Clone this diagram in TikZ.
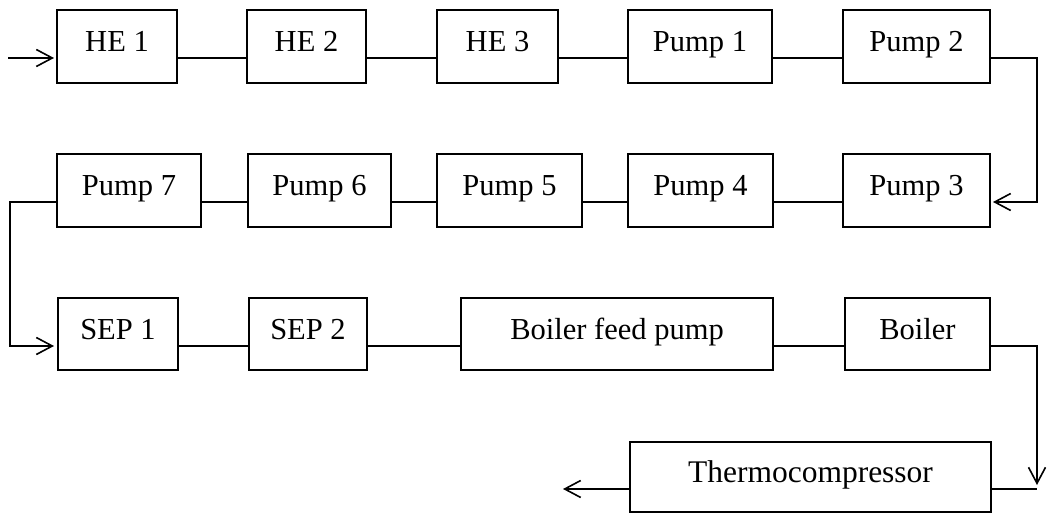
\documentclass[tikz,border=0pt]{standalone}
\usepackage{fontspec}
\setmainfont{Liberation Serif}
\usetikzlibrary{arrows.meta}
\begin{document}
\begin{tikzpicture}[x=1pt,y=-1pt,
  blk/.style={draw,line width=1.6pt,rectangle,inner sep=0pt,outer sep=0pt,
    text height=42pt,text depth=31pt,align=center,
    font=\fontsize{30.5}{33}\selectfont},
  conn/.style={line width=1.6pt},
  arr/.style={line width=1.6pt,-{Straight Barb[length=16pt,width=17pt,line width=1.6pt]}}]
\useasboundingbox (0,0) rectangle (1050,513);
% row 1
\node[blk,minimum width=120pt] (he1) at (117,46.5) {HE 1};
\node[blk,minimum width=119pt] (he2) at (306.5,46.5) {HE 2};
\node[blk,minimum width=121pt] (he3) at (497.5,46.5) {HE 3};
\node[blk,minimum width=144pt] (p1) at (700,46.5) {Pump 1};
\node[blk,minimum width=147pt] (p2) at (916.5,46.5) {Pump 2};
% row 2
\node[blk,minimum width=144pt] (p7) at (129,190.5) {Pump 7};
\node[blk,minimum width=143pt] (p6) at (319.5,190.5) {Pump 6};
\node[blk,minimum width=145pt] (p5) at (509.5,190.5) {Pump 5};
\node[blk,minimum width=145pt] (p4) at (700.5,190.5) {Pump 4};
\node[blk,minimum width=147pt] (p3) at (916.5,190.5) {Pump 3};
% row 3
\node[blk,minimum width=120pt,text height=41pt] (s1) at (118,334) {SEP 1};
\node[blk,minimum width=118pt,text height=41pt] (s2) at (308,334) {SEP 2};
\node[blk,minimum width=312pt,text height=41pt] (bfp) at (617,334) {Boiler feed pump};
\node[blk,minimum width=145pt,text height=41pt] (boil) at (917.5,334) {Boiler};
% row 4
\node[blk,minimum width=361pt,text height=40pt,text depth=30pt,font=\fontsize{31.5}{34}\selectfont] (tc) at (810.5,477) {Thermocompressor};
% coordinates
\coordinate (in) at (8,58);
\coordinate (c1) at (1037,58);
\coordinate (c2) at (10,202);
\coordinate (c4) at (1037,489);
\coordinate (out) at (563,489);
% connectors
\draw[arr,shorten >=3pt] (in) -- ([yshift=25pt]he1.south west);
\draw[conn] ([yshift=25pt]he1.south east) -- ([yshift=25pt]he2.south west);
\draw[conn] ([yshift=25pt]he2.south east) -- ([yshift=25pt]he3.south west);
\draw[conn] ([yshift=25pt]he3.south east) -- ([yshift=25pt]p1.south west);
\draw[conn] ([yshift=25pt]p1.south east) -- ([yshift=25pt]p2.south west);
\draw[arr,shorten >=3pt] ([yshift=25pt]p2.south east) -| (c1) |- ([yshift=25pt]p3.south east);
\draw[conn] ([yshift=25pt]p3.south west) -- ([yshift=25pt]p4.south east);
\draw[conn] ([yshift=25pt]p4.south west) -- ([yshift=25pt]p5.south east);
\draw[conn] ([yshift=25pt]p5.south west) -- ([yshift=25pt]p6.south east);
\draw[conn] ([yshift=25pt]p6.south west) -- ([yshift=25pt]p7.south east);
\draw[arr,shorten >=4pt] ([yshift=25pt]p7.south west) -| (c2) |- ([yshift=24pt]s1.south west);
\draw[conn] ([yshift=24pt]s1.south east) -- ([yshift=24pt]s2.south west);
\draw[conn] ([yshift=24pt]s2.south east) -- ([yshift=24pt]bfp.south west);
\draw[conn] ([yshift=24pt]bfp.south east) -- ([yshift=24pt]boil.south west);
\draw[arr,shorten >=4pt] ([yshift=24pt]boil.south east) -| (c4);
\draw[conn] ([yshift=23pt]tc.south east) -- (c4);
\draw[arr] ([yshift=23pt]tc.south west) -- (out);
\end{tikzpicture}
\end{document}
